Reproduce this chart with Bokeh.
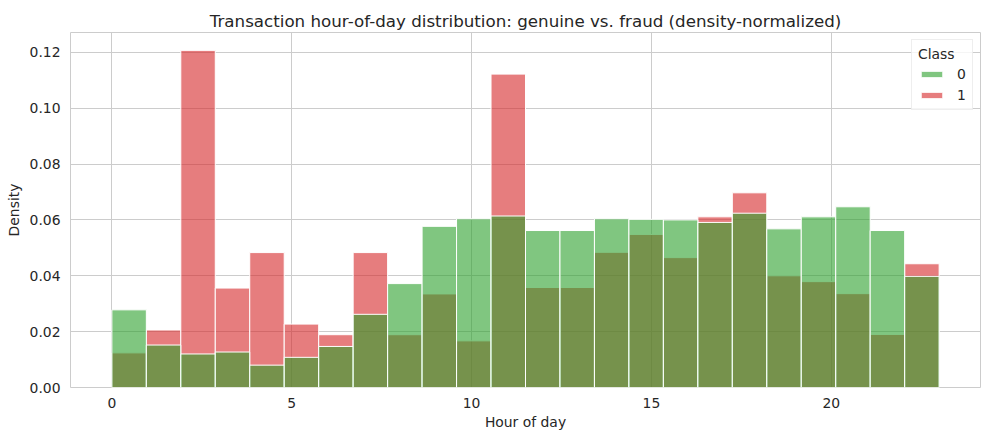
import numpy as np
from bokeh.plotting import figure
from bokeh.models import ColumnDataSource, FixedTicker, PrintfTickFormatter, Range1d, Legend, LegendItem
from bokeh.embed import file_html
from bokeh.resources import INLINE

# ---- data ----
hour_min = 0
hour_max = 23
n_bins = 24
genuine_density = [0.0278, 0.0152, 0.0120, 0.0127, 0.0080, 0.0108, 0.0147, 0.0262,
                   0.0372, 0.0577, 0.0604, 0.0614, 0.0562, 0.0562, 0.0604, 0.0602,
                   0.0600, 0.0591, 0.0624, 0.0568, 0.0611, 0.0647, 0.0562, 0.0398]
fraud_density = [0.0124, 0.0206, 0.1207, 0.0356, 0.0483, 0.0227, 0.0189, 0.0483,
                 0.0189, 0.0335, 0.0167, 0.1122, 0.0358, 0.0358, 0.0484, 0.0548,
                 0.0465, 0.0611, 0.0697, 0.0400, 0.0379, 0.0336, 0.0190, 0.0443]
class_labels = ["0", "1"]
x_ticks = [0, 5, 10, 15, 20]
y_ticks = [0.00, 0.02, 0.04, 0.06, 0.08, 0.10, 0.12]

edges = np.linspace(hour_min, hour_max, n_bins + 1)
src_g = ColumnDataSource(dict(left=edges[:-1], right=edges[1:], top=genuine_density,
                              bottom=[0] * n_bins))
src_f = ColumnDataSource(dict(left=edges[:-1], right=edges[1:], top=fraud_density,
                              bottom=[0] * n_bins))

FONT = "DejaVu Sans"
TXT = "#262626"
GRID = "#cccccc"
SMALL = "13.9px"

span = hour_max - hour_min
p = figure(width=981, height=432, output_backend="svg", toolbar_location=None,
           x_range=Range1d(hour_min - 0.05 * span, hour_max + 0.05 * span),
           y_range=Range1d(0, max(max(fraud_density), max(genuine_density)) * 1.053),
           min_border_left=70, min_border_right=1, min_border_top=32, min_border_bottom=45)

p.title.text = "Transaction hour-of-day distribution: genuine vs. fraud (density-normalized)"
p.title.align = "center"
p.title.text_font = FONT
p.title.text_font_size = "16.7px"
p.title.text_font_style = "normal"
p.title.text_color = TXT
p.title.standoff = 3

red = p.quad(left="left", right="right", top="top", bottom="bottom", source=src_f,
             fill_color="#d62728", fill_alpha=0.6, line_color="white", line_width=1)
green = p.quad(left="left", right="right", top="top", bottom="bottom", source=src_g,
               fill_color="#2ca02c", fill_alpha=0.6, line_color="white", line_width=1)

p.background_fill_color = "white"
p.border_fill_color = "white"
p.outline_line_color = GRID
p.outline_line_width = 1

p.xaxis.ticker = FixedTicker(ticks=x_ticks)
p.yaxis.ticker = FixedTicker(ticks=y_ticks)
p.yaxis.formatter = PrintfTickFormatter(format="%.2f")
p.xgrid.ticker = FixedTicker(ticks=x_ticks)
p.ygrid.ticker = FixedTicker(ticks=y_ticks)
p.grid.grid_line_color = GRID
p.grid.grid_line_width = 1

for ax in (p.xaxis, p.yaxis):
    ax.axis_line_color = None
    ax.major_tick_line_color = None
    ax.minor_tick_line_color = None
    ax.major_tick_out = 0
    ax.major_tick_in = 0
    ax.major_label_text_font = FONT
    ax.major_label_text_font_size = SMALL
    ax.major_label_text_color = TXT
    ax.axis_label_text_font = FONT
    ax.axis_label_text_font_size = SMALL
    ax.axis_label_text_font_style = "normal"
    ax.axis_label_text_color = TXT

p.xaxis.axis_label = "Hour of day"
p.yaxis.axis_label = "Density"
p.xaxis.major_label_standoff = 10
p.yaxis.major_label_standoff = 10
p.xaxis.axis_label_standoff = 3
p.yaxis.axis_label_standoff = 5

legend = Legend(items=[LegendItem(label=class_labels[0], renderers=[green]),
                       LegendItem(label=class_labels[1], renderers=[red])],
                location="top_right", title="Class")
legend.title_text_font = FONT
legend.title_text_font_size = SMALL
legend.title_text_font_style = "normal"
legend.title_text_color = TXT
legend.title_standoff = 4
legend.label_text_font = FONT
legend.label_text_font_size = SMALL
legend.label_text_color = TXT
legend.glyph_width = 27
legend.glyph_height = 8
legend.label_height = 14
legend.label_width = 9
legend.label_standoff = 12
legend.spacing = 5
legend.padding = 6
legend.margin = 7
legend.border_line_color = "#dddddd"
legend.background_fill_alpha = 0.8
p.add_layout(legend)

open("out.html", "w").write(file_html(p, INLINE))
